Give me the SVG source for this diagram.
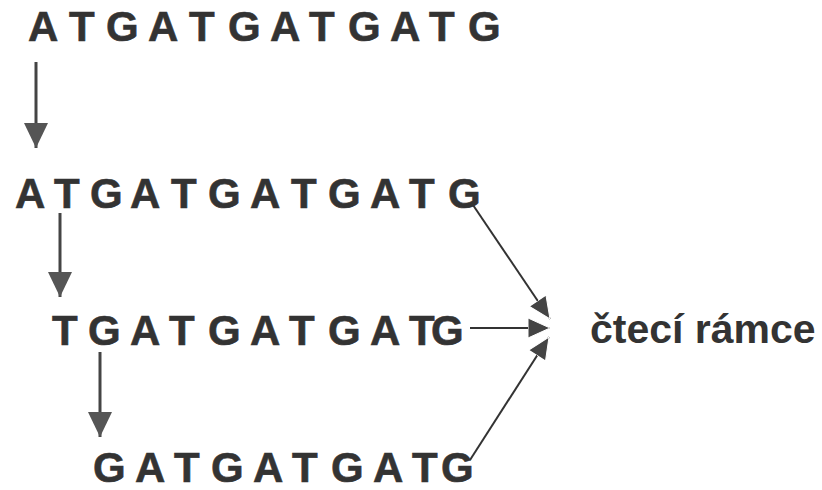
<svg xmlns="http://www.w3.org/2000/svg" width="822" height="490" viewBox="0 0 822 490">
  <style>
    .seq { font-family: "Liberation Sans", Arial, sans-serif; font-weight: bold; font-size: 42px; fill: #333; stroke: #333; stroke-width: 0.6; }
    .lbl { font-family: "Liberation Sans", Arial, sans-serif; font-weight: bold; font-size: 41px; fill: #333; }
    .down { stroke: #444; stroke-width: 3; fill: none; }
    .conv { stroke: #333; stroke-width: 2; fill: none; }
  </style>
  <defs>
    <marker id="headDown" markerUnits="userSpaceOnUse" markerWidth="26" markerHeight="25" refX="25" refY="12" orient="auto">
      <path d="M0,0 L25,12 L0,24 z" fill="#555"/>
    </marker>
    <marker id="headConv" markerUnits="userSpaceOnUse" markerWidth="24" markerHeight="22" refX="22" refY="10" orient="auto">
      <path d="M0,0 L22,10 L0,20 z" fill="#444" stroke="#fff" stroke-width="1"/>
    </marker>
  </defs>
  <rect width="822" height="490" fill="#fff"/>
  <g id="seq1">
    <text class="seq" x="28 69 106 148 189 228 270 309 348 390 429 468" y="41">ATGATGATGATG</text>
  </g>
  <g id="seq2">
    <text class="seq" x="15 54 90 130 171 208 250 291 328 370 409 448" y="208">ATGATGATGATG</text>
  </g>
  <g id="seq3">
    <text class="seq" x="52 88 130 169 208 250 289 328 370 409 431" y="345">TGATGATGATG</text>
  </g>
  <g id="seq4">
    <text class="seq" x="93 135 174 211 253 292 331 373 412 441" y="482">GATGATGATG</text>
  </g>
  <g id="label">
    <text class="lbl" x="590" y="343">čtecí rámce</text>
  </g>
  <g id="connectors">
    <line class="down" x1="36" y1="62" x2="36" y2="148" marker-end="url(#headDown)"/>
    <line class="down" x1="60" y1="213" x2="60" y2="297" marker-end="url(#headDown)"/>
    <line class="down" x1="100" y1="352" x2="100" y2="437" marker-end="url(#headDown)"/>
    <line class="conv" x1="473" y1="205" x2="550" y2="319" marker-end="url(#headConv)"/>
    <line class="conv" x1="470" y1="328" x2="550" y2="328" marker-end="url(#headConv)"/>
    <line class="conv" x1="470" y1="460" x2="549" y2="337" marker-end="url(#headConv)"/>
  </g>
</svg>
